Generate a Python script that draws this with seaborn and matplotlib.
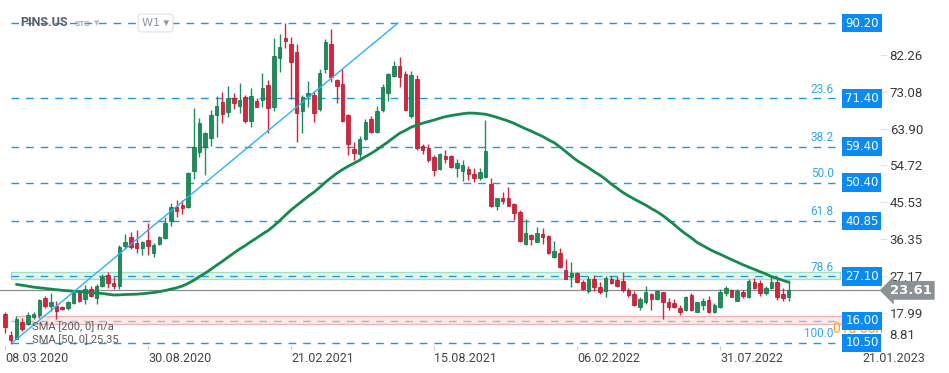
import numpy as np
import pandas as pd
import matplotlib
matplotlib.use("Agg")
import matplotlib.pyplot as plt
import matplotlib.transforms as mtransforms
from matplotlib.patches import Rectangle
import seaborn as sns

# ---- data (weekly candles, PINS.US, W1) ----
symbol = "PINS.US"
first_week = "2020-03-08"

opens = [17.7, 12.6, 11.6, 15.8, 15.3, 17.0, 17.5, 21.7, 19.7, 19.7,
         19.4, 19.2, 20.5, 23.0, 21.5, 23.9, 21.8, 24.7, 27.5, 25.4,
         24.8, 34.6, 36.9, 35.4, 34.2, 36.1, 33.0, 35.2, 36.6, 41.0,
         44.4, 44.9, 44.4, 53.4, 58.1, 59.2, 61.6, 67.3, 70.6, 68.0,
         71.4, 69.6, 71.7, 65.9, 70.8, 70.9, 74.8, 69.4, 81.4, 86.4,
         85.0, 82.9, 68.4, 72.0, 72.3, 68.7, 78.7, 85.0, 76.0, 75.0,
         67.3, 58.7, 57.5, 61.2, 66.3, 63.0, 68.5, 72.8, 77.0, 79.5,
         77.5, 67.0, 76.3, 59.6, 59.0, 56.8, 53.8, 57.1, 57.1, 54.2,
         53.4, 53.8, 52.6, 51.5, 51.8, 50.1, 44.7, 46.5, 46.5, 45.1,
         43.2, 35.2, 37.4, 35.7, 37.6, 37.1, 31.8, 33.0, 28.7, 27.0,
         27.9, 25.8, 23.5, 26.4, 24.4, 23.5, 26.4, 26.2, 26.0, 23.7,
         22.7, 19.4, 20.8, 22.7, 21.4, 23.1, 20.8, 20.4, 19.1, 18.6,
         22.5, 18.3, 19.9, 21.2, 18.3, 19.4, 22.9, 23.7, 21.0, 23.3,
         22.0, 25.8, 25.5, 22.9, 24.1, 25.8, 22.7, 21.9]
highs = [18.2, 13.4, 17.2, 16.6, 18.3, 18.2, 21.5, 22.3, 22.9, 20.9,
         19.7, 21.0, 23.3, 23.5, 25.0, 24.7, 25.2, 27.7, 28.3, 27.0,
         35.0, 37.6, 38.2, 38.6, 35.9, 40.5, 35.5, 37.2, 42.0, 45.3,
         46.0, 46.0, 53.2, 69.0, 66.6, 63.1, 68.5, 72.0, 73.1, 74.5,
         72.7, 75.3, 72.3, 73.9, 71.5, 77.8, 76.0, 86.5, 87.5, 90.1,
         86.6, 85.0, 72.3, 75.8, 73.3, 78.7, 86.2, 88.7, 76.2, 78.7,
         67.5, 60.6, 62.0, 66.2, 67.1, 69.6, 75.1, 77.7, 80.7, 81.8,
         78.3, 78.3, 77.3, 60.0, 60.0, 57.3, 57.9, 58.6, 57.4, 56.3,
         56.0, 54.6, 54.0, 54.1, 66.0, 51.5, 46.6, 48.2, 49.4, 45.3,
         43.5, 41.4, 37.6, 39.4, 39.1, 37.3, 36.0, 34.1, 31.3, 30.6,
         28.3, 26.3, 27.2, 27.5, 25.8, 27.2, 27.1, 27.3, 28.3, 24.3,
         23.5, 22.0, 24.8, 23.0, 23.7, 23.3, 21.7, 21.5, 20.0, 22.2,
         23.0, 20.8, 21.6, 22.1, 20.5, 24.0, 24.8, 24.0, 24.0, 23.7,
         26.5, 26.6, 26.2, 24.7, 27.0, 26.4, 24.1, 26.1]
lows = [12.9, 10.3, 11.4, 13.4, 14.9, 16.5, 16.8, 19.3, 18.4, 16.5,
        18.7, 18.8, 20.2, 20.6, 20.3, 21.9, 20.3, 24.4, 24.2, 24.0,
        24.0, 34.0, 34.0, 33.0, 32.5, 32.5, 32.0, 34.8, 36.3, 39.7,
        42.0, 42.6, 44.0, 51.3, 56.8, 52.3, 59.6, 61.7, 65.4, 66.9,
        68.7, 67.8, 65.2, 64.4, 69.2, 69.2, 62.9, 68.3, 78.1, 83.9,
        71.2, 60.6, 62.7, 69.2, 65.6, 68.4, 77.8, 75.6, 70.2, 65.6,
        57.3, 56.1, 56.1, 61.0, 62.8, 62.8, 68.0, 70.7, 76.8, 74.2,
        68.3, 66.6, 58.5, 57.5, 55.7, 52.1, 53.6, 55.3, 54.2, 51.9,
        50.9, 51.2, 50.6, 51.0, 51.5, 44.4, 43.5, 45.1, 44.5, 41.1,
        35.6, 34.9, 34.9, 35.6, 35.1, 32.6, 31.6, 29.3, 26.4, 24.5,
        25.5, 23.7, 22.9, 23.5, 22.8, 22.0, 25.3, 24.4, 23.3, 22.0,
        19.8, 18.8, 20.3, 18.8, 21.2, 16.4, 18.8, 19.2, 17.5, 18.4,
        18.4, 18.1, 18.8, 17.9, 17.9, 19.1, 22.3, 21.9, 20.9, 21.6,
        21.8, 23.9, 22.1, 22.5, 23.9, 21.2, 20.9, 21.0]
closes = [14.4, 11.3, 16.4, 13.9, 17.5, 17.6, 21.2, 19.8, 20.6, 18.5,
          18.9, 20.7, 23.0, 21.0, 23.9, 22.3, 24.7, 26.9, 25.5, 24.8,
          34.5, 35.6, 34.5, 34.2, 35.6, 34.6, 35.0, 36.9, 40.4, 44.4,
          43.4, 44.1, 52.8, 59.2, 65.4, 62.7, 67.3, 69.5, 67.5, 71.4,
          70.3, 71.0, 65.8, 72.0, 69.4, 73.9, 69.0, 82.0, 84.1, 85.8,
          80.6, 67.7, 71.7, 72.7, 67.9, 77.7, 85.4, 76.8, 74.6, 65.9,
          60.0, 57.9, 61.2, 65.6, 63.0, 68.4, 74.2, 77.5, 79.5, 76.8,
          68.5, 77.2, 59.1, 58.6, 56.1, 53.6, 57.6, 56.3, 54.4, 55.4,
          54.8, 52.6, 51.7, 53.2, 58.3, 44.6, 46.5, 45.9, 44.7, 42.8,
          36.0, 37.8, 36.4, 37.8, 36.8, 32.8, 33.4, 29.5, 26.5, 27.9,
          25.6, 23.9, 26.4, 24.4, 23.3, 26.6, 25.4, 24.7, 23.7, 22.5,
          20.0, 21.5, 23.3, 21.5, 23.5, 20.8, 19.5, 19.5, 18.1, 21.9,
          18.7, 20.6, 21.0, 18.1, 19.9, 23.3, 24.1, 22.0, 23.5, 22.3,
          26.0, 24.1, 22.9, 24.1, 25.8, 21.9, 21.6, 23.61]

# weekly closes before the visible window (only feed the SMA 50)
prior_closes = [24.4, 28.9, 30.5, 29.0, 27.9, 27.2, 26.8, 27.3, 26.5, 27.6,
                27.2, 28.4, 29.5, 30.6, 31.8, 35.2, 34.5, 32.6, 31.4, 32.4,
                32.0, 30.1, 27.8, 26.2, 26.4, 26.9, 26.6, 27.4, 21.3, 20.6,
                20.2, 19.6, 19.5, 19.1, 18.9, 19.3, 18.8, 19.5, 21.4, 22.6,
                23.1, 23.4, 24.8, 25.5, 24.2, 20.4, 17.6]
sma_period = 50

# horizontal levels and their tags
levels = [90.20, 71.40, 59.40, 50.40, 40.85, 27.10, 16.00, 10.50]
level_tags = ["90.20", "71.40", "59.40", "50.40", "40.85", "27.10", "16.00", "10.50"]
fib_levels = [71.40, 59.40, 50.40, 40.85, 27.10, 10.50]
fib_names = ["23.6", "38.2", "50.0", "61.8", "78.6", "100.0"]
green_zone = [26.35, 28.25]
red_zone = [15.30, 17.30]

# trend line from the March 2020 low
trend_weeks = [1.2, 68.7]
trend_prices = [10.50, 90.20]

price_ticks = [82.26, 73.08, 63.90, 54.72, 45.53, 36.35, 27.17, 17.99]
bottom_tick = 8.81
last_price = 23.61
date_ticks = ["08.03.2020", "30.08.2020", "21.02.2021", "15.08.2021",
              "06.02.2022", "31.07.2022", "21.01.2023"]

# ---- style ----
sns.set_theme(style="white")
plt.rcParams["font.family"] = ["Roboto", "DejaVu Sans"]

up_color, up_edge = "#1b8f59", "#0f6e40"
down_color, down_edge = "#d9233d", "#a8152c"
level_color = "#1e98e0"
tag_color = "#0a8bf2"

fig = plt.figure(figsize=(9.49, 3.73), dpi=100)
ax = fig.add_axes([0, 27 / 373, 880 / 949, 346 / 373])
ax.set_facecolor("white")

weeks = np.arange(len(closes))
dates = pd.date_range(first_week, periods=len(closes), freq="7D")
o, h, l, c = map(np.array, (opens, highs, lows, closes))

# zones
line_start, line_end = 1.05, 145.1
ax.add_patch(Rectangle((line_start, green_zone[0]), 146.0 - line_start,
                       green_zone[1] - green_zone[0], fc="#e4f6ee", ec="#a3dfc4",
                       lw=1.0, zorder=1))
ax.add_patch(Rectangle((1.9, red_zone[0]), 147.0 - 1.9,
                       red_zone[1] - red_zone[0], fc="#fde9e9", ec="#f2b3b3",
                       lw=1.0, zorder=1))

# dashed levels
for lvl in levels:
    col = "#86c2ea" if lvl == 16.00 else level_color
    ax.hlines(lvl, line_start, line_end, colors=col, lw=1.0,
              linestyles=(0, (5.5, 5.0)), zorder=2)

# current price line
ax.axhline(last_price, color="#8c8c8c", lw=0.9, zorder=2)

# candles
up = c >= o
colors = np.where(up, up_color, down_color)
edges = np.where(up, up_edge, down_edge)
ax.vlines(weeks, l, h, colors=colors, lw=1.0, zorder=3)
body_lo = np.minimum(o, c)
body_h = np.maximum(np.abs(c - o), 0.35)
ax.bar(weeks, body_h, bottom=body_lo, width=0.62, color=colors,
       edgecolor=edges, linewidth=0.5, zorder=4)

# SMA 50
all_closes = pd.Series(prior_closes + closes)
sma = all_closes.rolling(sma_period).mean().iloc[len(prior_closes):].to_numpy()
sma_df = pd.DataFrame({"week": weeks, "sma": sma}).dropna()
sns.lineplot(data=sma_df, x="week", y="sma", color="#17884f", lw=2.0,
             ax=ax, zorder=5)

# trend line
sns.lineplot(x=trend_weeks, y=trend_prices, color="#2bb3f5", lw=1.0,
             ax=ax, zorder=5)

# fibonacci labels
for lvl, name in zip(fib_levels, fib_names):
    ax.annotate(name, xy=(line_end, lvl), xytext=(-1, 2),
                textcoords="offset points", ha="right", va="bottom",
                color="#34a6ea", fontsize=8.5, zorder=6)

# orange countdown (partly under the 16.00 tag)
ax.text(833 / 949, 1 - 329 / 373, "01d 05h", transform=fig.transFigure,
        color="#ff9d2e", fontsize=10, va="center", ha="left",
        zorder=8, clip_on=False)

# level tags on the right
tag_tr = mtransforms.blended_transform_factory(ax.transAxes, ax.transData)
for lvl, tag in zip(levels, level_tags):
    ax.text(0.9795, lvl, tag, transform=tag_tr, ha="center", va="center",
            color="white", fontsize=8.5, family="DejaVu Sans",
            bbox=dict(boxstyle="square,pad=0.24", fc=tag_color, ec="none"),
            zorder=10, clip_on=False)

# current price tag
ax.text(1.035, last_price, f"{last_price:.2f}", transform=tag_tr,
        ha="center", va="center", color="white", fontsize=9.5,
        fontweight="bold", family="DejaVu Sans",
        bbox=dict(boxstyle="larrow,pad=0.22", fc="#8a9295", ec="none"),
        zorder=10, clip_on=False)

# axes
ax.set_xlim(-0.874, 152.97)
ax.set_ylim(9.75, 95.93)
for s in ax.spines.values():
    s.set_visible(False)
ax.grid(False)
ax.set_xlabel("")
ax.set_ylabel("")

ax.yaxis.tick_right()
ax.set_yticks(price_ticks)
ax.set_yticklabels([f"{p:.2f}" for p in price_ticks])
ax.tick_params(axis="y", right=True, left=False, length=5, width=0.8,
               color="#e2e2e2", pad=2, labelsize=9.5, labelcolor="#3a3a3a")
ax.annotate(f"{bottom_tick:.2f}", xy=(1.0, bottom_tick), xycoords=tag_tr,
            xytext=(7, 10), textcoords="offset points", ha="left",
            va="center", fontsize=9.5, color="#3a3a3a", annotation_clip=False)

tick_dates = pd.to_datetime(date_ticks, format="%d.%m.%Y")
tick_weeks = [(d - dates[0]).days / 7 for d in tick_dates]
ax.set_xticks(tick_weeks)
ax.set_xticklabels(date_ticks, ha="left")
ax.tick_params(axis="x", bottom=True, length=3, width=0.8, color="#cccccc",
               pad=1, labelsize=9, labelcolor="#444444")

# header and indicator legend
fig.text(20 / 949, 1 - 23 / 373, symbol, fontsize=9, fontweight="bold",
         color="#56606a", va="center", ha="left")
fig.text(75 / 949, 1 - 24 / 373, "STC", fontsize=6, fontweight="bold",
         color="#a3adb5", va="center", ha="left")
fig.text(94 / 949, 1 - 23 / 373, "\u25be", fontsize=8, color="#b5bcc2",
         va="center", ha="left", family="DejaVu Sans")
fig.text(142 / 949, 1 - 23 / 373, "W1 \u25be", fontsize=8, color="#8d959b",
         va="center", ha="left", family="DejaVu Sans",
         bbox=dict(boxstyle="round,pad=0.35,rounding_size=0.3", fc="white",
                   ec="#e0e0e0", lw=0.8))
fig.text(32 / 949, 1 - 327 / 373, "SMA [200, 0] n/a", fontsize=8,
         color="#5a5a5a", va="center", ha="left")
fig.text(32 / 949, 1 - 340 / 373, "SMA [50, 0] 25.35", fontsize=8,
         color="#5a5a5a", va="center", ha="left")

fig.savefig("out.png", dpi=100)
